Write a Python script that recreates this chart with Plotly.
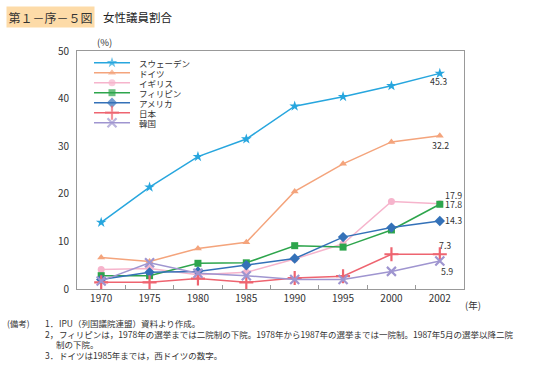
import plotly.graph_objects as go

years = ["1970", "1975", "1980", "1985", "1990", "1995", "2000", "2002"]
sweden = [14.0, 21.4, 27.8, 31.5, 38.4, 40.4, 42.7, 45.3]
germany = [6.6, 5.8, 8.5, 9.8, 20.5, 26.3, 30.9, 32.2]
uk = [4.1, 4.3, 3.0, 3.5, 6.3, 9.5, 18.4, 17.9]
philippines = [2.8, 2.8, 5.4, 5.5, 9.1, 8.8, 12.4, 17.8]
usa = [2.0, 3.5, 3.7, 5.0, 6.4, 10.9, 12.9, 14.3]
japan = [1.4, 1.4, 2.2, 1.4, 2.3, 2.7, 7.3, 7.3]
korea = [1.7, 5.5, 3.3, 2.8, 2.0, 2.0, 3.7, 5.9]

names = ["スウェーデン", "ドイツ", "イギリス", "フィリピン", "アメリカ", "日本", "韓国"]
series = [sweden, germany, uk, philippines, usa, japan, korea]
colors = ["#27a6de", "#f4a47c", "#f6b4cc", "#2da54c", "#3471b8", "#ee6470", "#9f95d0"]
symbols = ["star", "triangle-up", "circle", "square", "diamond", "cross-thin", "x-thin"]
msizes = [8, 7, 7, 7, 8, 10, 9]

FONT = "Noto Sans CJK JP"
W, H = 546, 369
L, R, T, B = 77, 464, 51, 289


def px(x):
    return (x - L) / (R - L)


def py(y):
    return (B - y) / (B - T)


fig = go.Figure()

for name, vals, col, sym, ms in zip(names, series, colors, symbols, msizes):
    thin = sym.endswith("-thin")
    fig.add_trace(go.Scatter(
        x=years, y=vals, mode="lines+markers", name=name,
        line=dict(color=col, width=1.5),
        marker=dict(symbol=sym, size=ms, color=col,
                    line=dict(color=col, width=2.2 if thin else 0)),
        showlegend=False, cliponaxis=False,
    ))

# manual legend (compact rows), drawn in pixel-like overlay axes
row0, step = 62.7, 10.0
for i, (name, col, sym, ms) in enumerate(zip(names, colors, symbols, msizes)):
    yy = row0 + i * step
    thin = sym.endswith("-thin")
    fig.add_trace(go.Scatter(
        x=[94, 112, 130], y=[yy, yy, yy], mode="lines+markers",
        xaxis="x2", yaxis="y2", showlegend=False, hoverinfo="skip",
        line=dict(color=col, width=1.5),
        marker=dict(symbol=sym, size=[0, ms, 0], color=col,
                    line=dict(color=col, width=2.2 if thin else 0)),
    ))
    fig.add_annotation(x=137, y=yy, xref="x2", yref="y2", text=name,
                       showarrow=False, xanchor="left", yanchor="middle",
                       font=dict(family=FONT, size=8.5, color="#333"))

# end-value labels
last = len(years) - 1
end_labels = [
    (sweden[-1], -1.5, 8, "center"),
    (germany[-1], 1, 9.5, "center"),
    (uk[-1], 3, -8, "left"),
    (philippines[-1], 3.5, 0.5, "left"),
    (usa[-1], 3.5, 0, "left"),
    (japan[-1], 5, -8.5, "center"),
    (korea[-1], 7, 11, "center"),
]
for v, dx, dy, anc in end_labels:
    fig.add_annotation(x=last, y=v, xref="x", yref="y", text=f"{v:.1f}",
                       showarrow=False, xanchor=anc, yanchor="middle",
                       xshift=dx, yshift=-dy,
                       font=dict(family=FONT, size=8.8, color="#333"))

# title
fig.add_annotation(x=px(6), y=py(16.5), xref="paper", yref="paper",
                   text="第１－序－５図", showarrow=False,
                   xanchor="left", yanchor="middle", bgcolor="#fddba8",
                   borderpad=1.5, font=dict(family=FONT, size=12, color="#333"))
fig.add_annotation(x=px(101), y=py(16.5), xref="paper", yref="paper",
                   text="女性議員割合", showarrow=False, xanchor="left",
                   yanchor="middle", font=dict(family=FONT, size=11.5, color="#222"))

fig.add_annotation(x=px(95), y=py(42), xref="paper", yref="paper",
                   text="(%)", showarrow=False, xanchor="left", yanchor="middle",
                   font=dict(family=FONT, size=9.5, color="#333"))
fig.add_annotation(x=px(463), y=py(305), xref="paper", yref="paper",
                   text="(年)", showarrow=False, xanchor="left", yanchor="middle",
                   font=dict(family=FONT, size=9.5, color="#333"))

# notes
NF = dict(family=FONT, size=8.5, color="#333")
notes = [
    (5, 322.5, "(備考)"),
    (43, 322.5, "1．"),
    (57, 322.5, "IPU（列国議院連盟）資料より作成。"),
    (43, 333.5, "2，"),
    (57, 333.5, "フィリピンは，1978年の選挙までは二院制の下院。1978年から1987年の選挙までは一院制。1987年5月の選挙以降二院"),
    (54, 344, "制の下院。"),
    (43, 355, "3．"),
    (57, 355, "ドイツは1985年までは，西ドイツの数字。"),
]
for nx, ny, txt in notes:
    fig.add_annotation(x=px(nx), y=py(ny), xref="paper", yref="paper",
                       text=txt, showarrow=False, xanchor="left", yanchor="middle",
                       font=NF)

fig.update_layout(
    width=W, height=H,
    margin=dict(l=L, r=W - R, t=T, b=H - B, autoexpand=False),
    paper_bgcolor="white", plot_bgcolor="white",
    showlegend=False,
    font=dict(family=FONT, size=10, color="#333"),
    xaxis=dict(type="category", categoryorder="array", categoryarray=years,
               range=[-0.5, len(years) - 0.5], automargin=False,
               showgrid=False, zeroline=False, showline=True, mirror=True,
               linecolor="#999", linewidth=1, ticks="inside", tickson="boundaries",
               ticklen=4, tickcolor="#999", tickangle=0,
               tickfont=dict(family=FONT, size=10, color="#333")),
    yaxis=dict(range=[0, 50], dtick=10, showgrid=False, zeroline=False,
               automargin=False,
               showline=True, mirror=True, linecolor="#999", linewidth=1,
               ticks="", ticklabelstandoff=5,
               tickfont=dict(family=FONT, size=10, color="#333")),
    xaxis2=dict(overlaying="x", range=[L, R], visible=False, fixedrange=True),
    yaxis2=dict(overlaying="y", range=[B, T], visible=False, fixedrange=True),
)

fig.write_html("out.html", config={"displayModeBar": False},
               post_script="document.body.style.margin='0';document.body.style.overflow='hidden';")
